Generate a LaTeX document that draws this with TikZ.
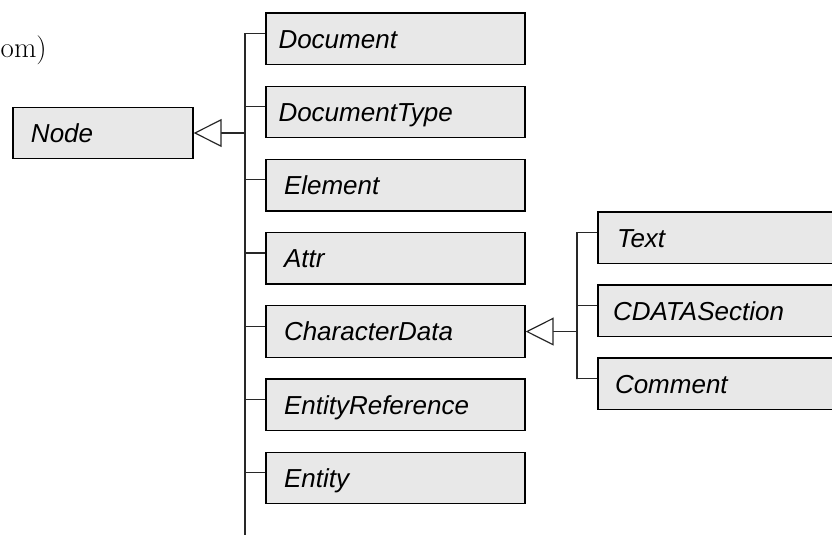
\documentclass[tikz,border=0pt]{standalone}
\usepackage{fontspec}
\setmainfont{Liberation Sans}
\newfontfamily\lmserif{Latin Modern Roman}
\usetikzlibrary{arrows.meta}
\definecolor{boxgray}{RGB}{232,232,232}
\definecolor{linegray}{RGB}{40,40,40}
\begin{document}
\begin{tikzpicture}[x=1bp,y=-1bp,
  cls/.style={draw=black, line width=1.3bp, fill=boxgray, minimum height=51.5bp,
    inner ysep=0pt, inner xsep=18bp, text width=#1, align=left,
    text height=18.6bp, text depth=0bp,
    font=\fontsize{26bp}{31bp}\selectfont\itshape},
  conn/.style={draw=linegray, line width=1.2bp},
  gen/.style={conn, -{Triangle[open, length=28bp, width=28bp, fill=white]}}
]
\clip (0,0) rectangle (832,548);
\useasboundingbox (0,0) rectangle (832,548);

% title fragment
\node[anchor=base west, inner sep=0pt, font=\lmserif\fontsize{29bp}{35bp}\selectfont] (title) at (0.5,57.5) {om)};

% root
\node[cls=144bp] (node) at (103,133) {Node};

% subclasses of Node
\node[cls=234bp, inner xsep=12.5bp] (doc)   at (395.5,38.75)  {Document};
\node[cls=234bp, inner xsep=12.5bp] (dtype) at (395.5,111.95) {DocumentType};
\node[cls=223bp] (elem)  at (395.5,185.15) {Element};
\node[cls=223bp] (attr)  at (395.5,258.35) {Attr};
\node[cls=223bp] (cdata) at (395.5,331.55) {CharacterData};
\node[cls=223bp] (eref)  at (395.5,404.75) {EntityReference};
\node[cls=223bp] (ent)   at (395.5,477.95) {Entity};

% subclasses of CharacterData
\node[cls=234bp, inner xsep=19bp] (text)  at (734,237.75) {Text};
\node[cls=242bp, inner xsep=15bp] (cdsec) at (734,310.75) {CDATASection};
\node[cls=238bp, inner xsep=17bp] (comm)  at (734,383.75) {Comment};

% trunk for Node
\coordinate (trunkbot) at (245,535);
\coordinate (j1) at (245,133);
\foreach \b in {doc,dtype,elem,attr,cdata,eref,ent}
  \draw[conn] ([yshift=5.25bp]\b.west) -| (trunkbot);
\draw[gen] (j1) -- (node.east);

% trunk for CharacterData
\coordinate (j2) at (577,331.55);
\coordinate (sbot) at (577,378.5);
\foreach \b in {text,cdsec,comm}
  \draw[conn] ([yshift=5.25bp]\b.west) -| (sbot);
\draw[gen] (j2) -- (cdata.east);
\end{tikzpicture}
\end{document}
